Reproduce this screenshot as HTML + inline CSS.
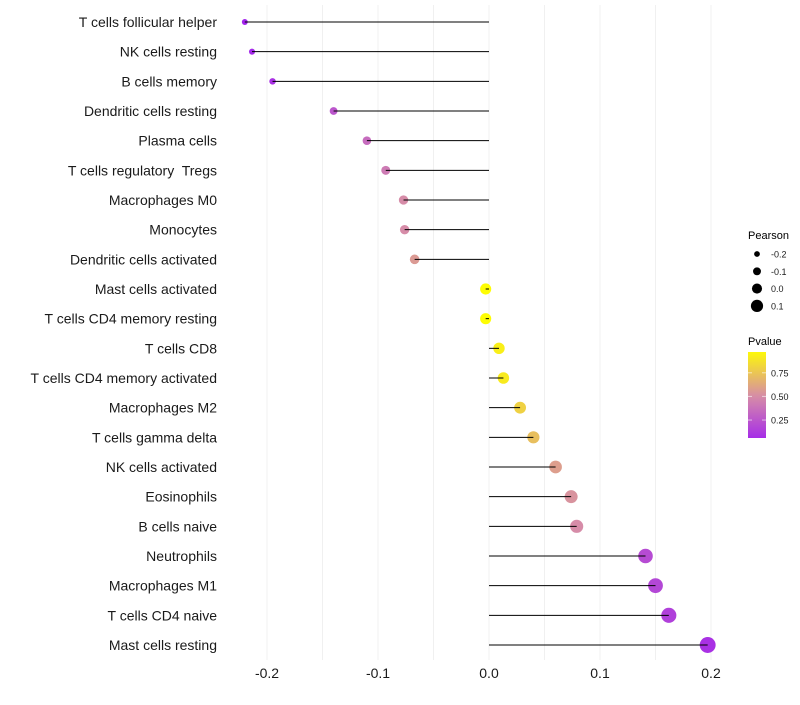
<!DOCTYPE html>
<html><head><meta charset="utf-8"><style>
body{margin:0;background:#fff;font-family:"Liberation Sans",sans-serif}
svg text{font-family:"Liberation Sans",sans-serif;white-space:pre}
</style></head><body>
<svg id="chart" width="800" height="700" xmlns="http://www.w3.org/2000/svg">
<g id="grid"></g>
<g id="points"></g>
<g id="stems"></g>
<g id="ylabels"></g>
<g id="xlabels"></g>
<g id="legend"></g>
</svg>
<script>
const categories=["T cells follicular helper","NK cells resting","B cells memory","Dendritic cells resting","Plasma cells","T cells regulatory  Tregs","Macrophages M0","Monocytes","Dendritic cells activated","Mast cells activated","T cells CD4 memory resting","T cells CD8","T cells CD4 memory activated","Macrophages M2","T cells gamma delta","NK cells activated","Eosinophils","B cells naive","Neutrophils","Macrophages M1","T cells CD4 naive","Mast cells resting"];
const pearson=[-0.22,-0.2135,-0.195,-0.14,-0.11,-0.093,-0.077,-0.076,-0.067,-0.003,-0.003,0.009,0.013,0.028,0.040,0.060,0.074,0.079,0.141,0.150,0.162,0.197];
const pvalue=[0.02,0.04,0.08,0.25,0.35,0.42,0.5,0.5,0.56,0.99,0.99,0.93,0.91,0.8,0.72,0.58,0.53,0.5,0.2,0.18,0.15,0.08];
const xTicks=[-0.2,-0.1,0.0,0.1,0.2];
const xTickLabels=["-0.2","-0.1","0.0","0.1","0.2"];
const sizeLegend=[-0.2,-0.1,0.0,0.1];
const colorLegend=[0.25,0.5,0.75];

const NS="http://www.w3.org/2000/svg";
const X=v=>489+v*1110;
const Y=i=>22+i*(623/21);
const R=v=>Math.max(1.8,5.6+12*v);
function lerp(a,b,t){return a.map((c,i)=>Math.round(c+(b[i]-c)*t));}
function col(p){const s=[[0,[160,32,240]],[0.5,[214,140,168]],[1,[255,255,0]]];
 p=Math.max(0,Math.min(1,p));const t=p<0.5?p/0.5:(p-0.5)/0.5;const c=p<0.5?lerp(s[0][1],s[1][1],t):lerp(s[1][1],s[2][1],t);return `rgb(${c})`;}
function el(tag,attrs,parent){const e=document.createElementNS(NS,tag);for(const k in attrs)e.setAttribute(k,attrs[k]);parent.appendChild(e);return e;}
const grid=document.getElementById('grid');
for(let v=-0.2;v<=0.2001;v+=0.05){
 const l=el('line',{x1:X(v),x2:X(v),y1:5,y2:660,stroke:'#f0f0f0','stroke-width':1},grid);
 
 
}
const pts=document.getElementById('points'),stems=document.getElementById('stems'),yl=document.getElementById('ylabels'),xl=document.getElementById('xlabels');
categories.forEach((c,i)=>{
 const d=el('circle',{cx:X(pearson[i]),cy:Y(i),r:R(pearson[i]),fill:col(pvalue[i])},pts);
 
 
 const s=el('line',{x1:X(0),x2:X(pearson[i]),y1:Y(i),y2:Y(i),stroke:'#000','stroke-width':1},stems);
 
 
 const t=el('text',{x:217,y:Y(i)+5,'text-anchor':'end','font-size':14,fill:'#1a1a1a'},yl);
 t.textContent=c;
 
 
});
xTicks.forEach((v,i)=>{
 const t=el('text',{x:X(v),y:678,'text-anchor':'middle','font-size':14,fill:'#1a1a1a'},xl);
 t.textContent=xTickLabels[i];
 
 
});
const lg=document.getElementById('legend');
let t=el('text',{x:748,y:239,'font-size':11,fill:'#000'},lg);t.textContent='Pearson';


sizeLegend.forEach((v,i)=>{
 const y=254+i*17.3;
 const c=el('circle',{cx:757,cy:y,r:R(v)*0.9,fill:'#000'},lg);
 
 
 const tt=el('text',{x:771,y:y+3.5,'font-size':9,fill:'#1a1a1a'},lg);tt.textContent=v.toFixed(1);
 
 
});
t=el('text',{x:748,y:345,'font-size':11,fill:'#000'},lg);t.textContent='Pvalue';


const defs=el('defs',{},lg);const g=el('linearGradient',{id:'pg',x1:0,y1:1,x2:0,y2:0},defs);
for(let k=0;k<=10;k++){const p=0.06+k*0.091;el('stop',{offset:k/10,'stop-color':col(p)},g);}
const bar=el('rect',{x:748,y:352,width:18,height:86,fill:'url(#pg)'},lg);


colorLegend.forEach(p=>{
 const y=438-(p-0.06)/0.91*86;
 el('line',{x1:748,x2:752,y1:y,y2:y,stroke:'#fff','stroke-opacity':0.6},lg);
 el('line',{x1:762,x2:766,y1:y,y2:y,stroke:'#fff','stroke-opacity':0.6},lg);
 const tt=el('text',{x:771,y:y+3.5,'font-size':9,fill:'#1a1a1a'},lg);tt.textContent=p.toFixed(2);
 
 
});
</script>
</body></html>
